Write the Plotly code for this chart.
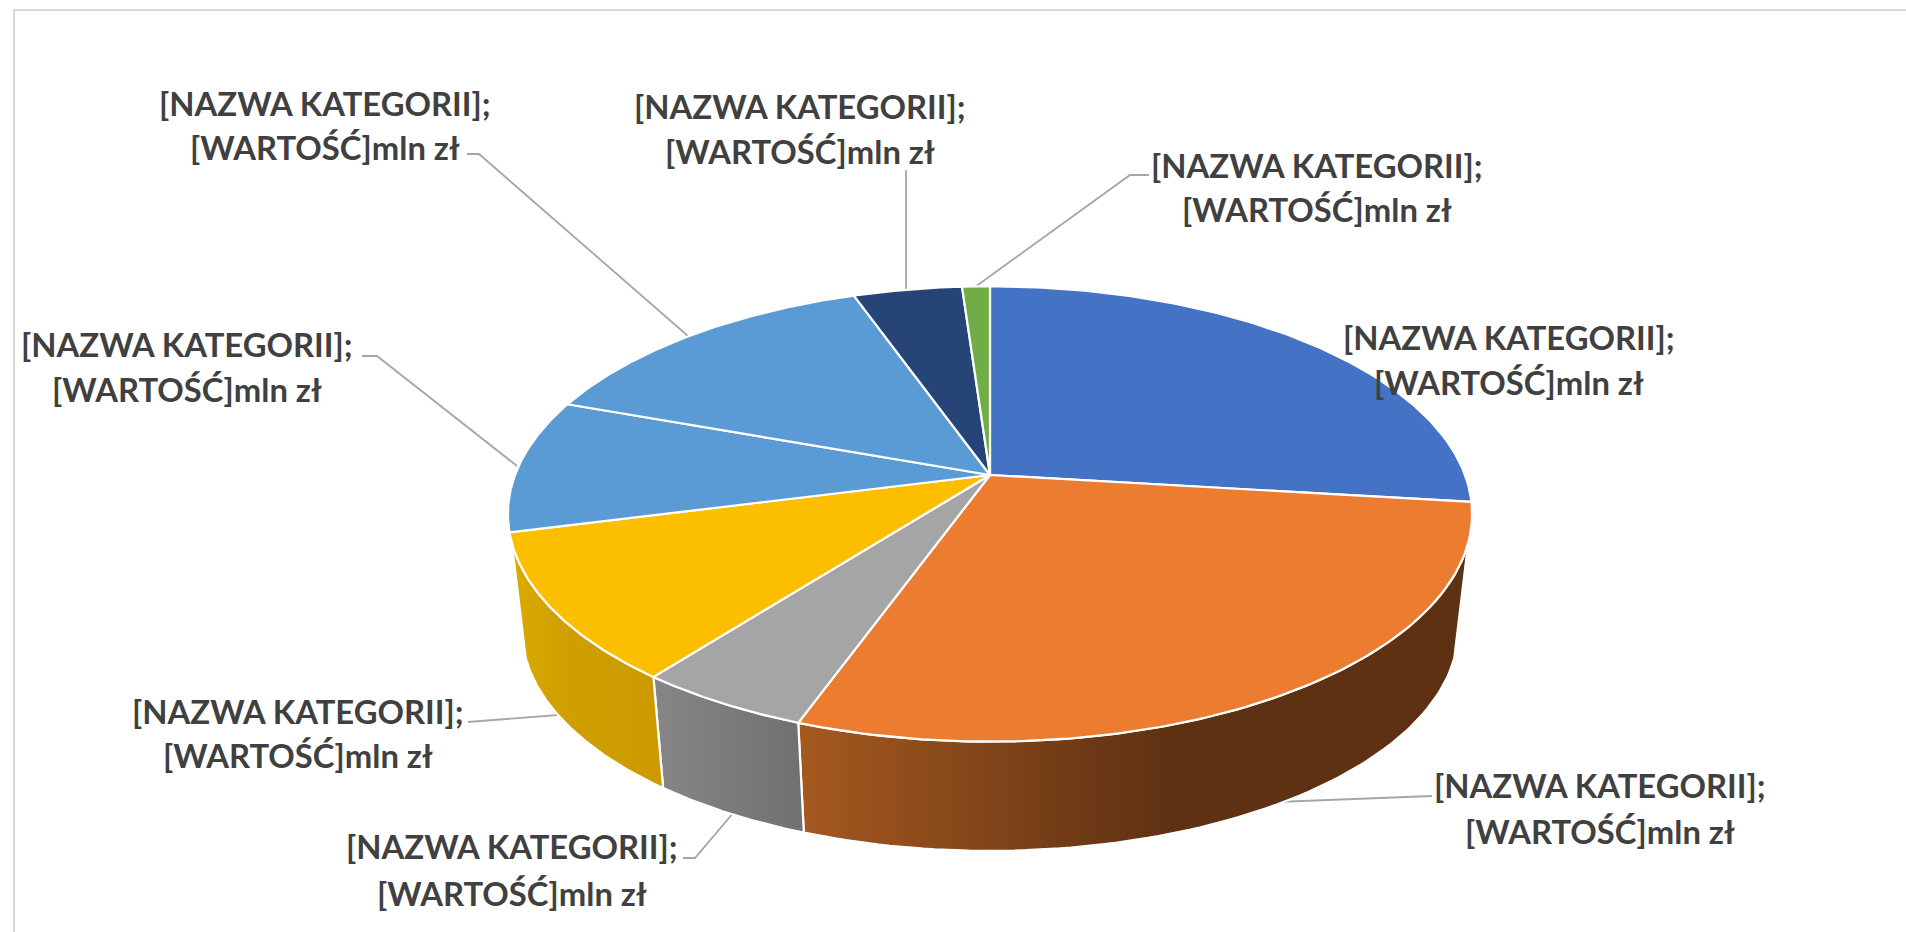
import numpy as np
import plotly.graph_objects as go

# ---- data (share of the pie, per cent) ----
shares = [26.9, 28.6, 5.0, 10.5, 9.5, 14.1, 4.3, 1.1]
top_colors = ["#4472C4", "#EB7C30", "#A5A5A5", "#FBBF00", "#5B9BD5", "#5B9BD5", "#264478", "#70AD47"]
wall_colors = [
    None,
    [[0, "#A5591F"], [0.55, "#5F3113"], [1, "#5F3113"]],
    [[0, "#868686"], [1, "#707070"]],
    [[0, "#DBAB00"], [0.35, "#CF9F00"], [1, "#CC9A00"]],
    None, None, None, None,
]
label_line1 = "[NAZWA KATEGORII];"
label_line2 = "[WARTOŚĆ]mln zł"

# ---- label positions (pixels): centre x, y of line 1, y of line 2 ----
label_x = [325, 800, 1316.5, 1508.5, 1600, 298, 512, 187]
label_y1 = [103, 106, 165, 337, 785, 711, 846, 344]
label_y2 = [147, 151, 209, 382, 831, 755, 893, 389]
FONT = dict(family="Lato", size=32.8, color="#404040")

leaders = [
    "M467,154 L479,154 L688,336",
    "M906,170 L906,292",
    "M1149,175 L1130,175 L975,287",
    "M1432,796 L1276,802",
    "M468,722 L571,714",
    "M683,858 L695,858 L734,812",
    "M362,356 L377,356 L517,466",
]

# ---- perspective of the disc ----
X0, Y0, R, K, C = 990.0, 475.0, 475.0, 221.0, 0.171
BOTTOM_SCALE, BOTTOM_Y0 = 0.971, 592.0
SILHOUETTE = (107.0, 253.0)  # angles where the side wall leaves the top rim


def rim(theta_deg, bottom=False):
    th = np.radians(theta_deg)
    u, v = np.sin(th), -np.cos(th)
    w = 1 - C * v
    dx, dy = R * u / w, K * v / w
    if bottom:
        return X0 + BOTTOM_SCALE * dx, BOTTOM_Y0 + BOTTOM_SCALE * dy
    return X0 + dx, Y0 + dy


edges = np.cumsum([0] + shares) / sum(shares) * 360
fig = go.Figure()

# side walls first
for i, cols in enumerate(wall_colors):
    if cols is None:
        continue
    t = np.linspace(max(edges[i], SILHOUETTE[0]), min(edges[i + 1], SILHOUETTE[1]), 80)
    xt, yt = rim(t)
    xb, yb = rim(t, bottom=True)
    x = np.concatenate([xt, xb[::-1], xt[:1]])
    y = np.concatenate([yt, yb[::-1], yt[:1]])
    fig.add_trace(go.Scatter(
        x=x, y=y, mode="lines", fill="toself",
        line=dict(color="white", width=2.2),
        fillgradient=dict(type="horizontal", colorscale=cols),
        hoverinfo="skip", showlegend=False,
    ))

# top faces
for i, col in enumerate(top_colors):
    t = np.linspace(edges[i], edges[i + 1], 120)
    xt, yt = rim(t)
    x = np.concatenate([[X0], xt, [X0]])
    y = np.concatenate([[Y0], yt, [Y0]])
    fig.add_trace(go.Scatter(
        x=x, y=y, mode="lines", fill="toself", fillcolor=col,
        line=dict(color="white", width=2.2),
        hoverinfo="skip", showlegend=False,
    ))

shapes = [dict(type="path", path=p, xref="x", yref="y", layer="below",
               line=dict(color="#A6A6A6", width=1.8)) for p in leaders]
shapes.append(dict(type="path", path="M14,940 L14,10 L1906,10", xref="x", yref="y",
                   layer="below", line=dict(color="#D9D9D9", width=2)))

annotations = []
for x, y1, y2 in zip(label_x, label_y1, label_y2):
    for y, txt in ((y1, label_line1), (y2, label_line2)):
        annotations.append(dict(
            x=x, y=y, xref="x", yref="y", text=f"<b>{txt}</b>", showarrow=False,
            xanchor="center", yanchor="middle", font=FONT,
        ))

fig.update_layout(
    width=1906, height=932, margin=dict(l=0, r=0, t=0, b=0),
    paper_bgcolor="white", plot_bgcolor="white", showlegend=False,
    xaxis=dict(range=[0, 1906], visible=False, fixedrange=True),
    yaxis=dict(range=[932, 0], visible=False, fixedrange=True),
    shapes=shapes, annotations=annotations,
)
fig.write_html("out.html", config=dict(displayModeBar=False),
               post_script="document.body.style.margin='0';document.body.style.overflow='hidden';")
